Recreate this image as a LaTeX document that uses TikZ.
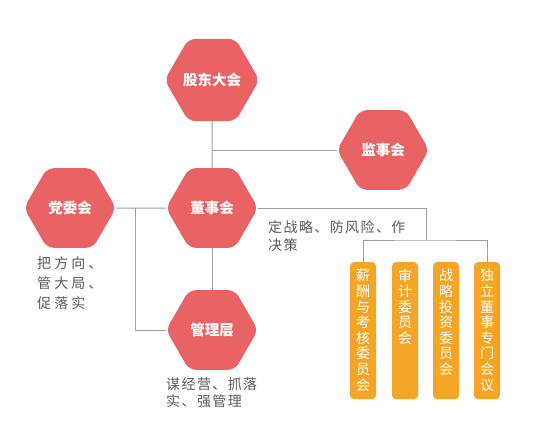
\documentclass[tikz,border=0pt]{standalone}
\usepackage{fontspec}
\setmainfont{Noto Sans CJK SC}
\usepackage{tikz}
\usetikzlibrary{shapes.geometric}
\definecolor{hexred}{HTML}{E96264}
\definecolor{boxorange}{HTML}{F4A526}
\definecolor{linegray}{HTML}{9E9E9E}
\definecolor{textgray}{HTML}{595959}

\newcommand{\vlabel}[1]{\parbox[c][123pt][t]{16pt}{\centering #1}}

\begin{document}
\begin{tikzpicture}[x=1pt, y=-1pt,
  hexnode/.style={regular polygon, regular polygon sides=6, minimum size=92pt, inner sep=0pt, fill=hexred, rounded corners=7pt, text=white, font=\fontsize{14.5}{16}\selectfont\bfseries},
  vbox/.style={fill=boxorange, rounded corners=4pt, inner xsep=5pt, inner ysep=7pt, anchor=north, text=white, font=\fontsize{14}{15.6}\selectfont},
  note/.style={text=textgray, align=left, inner sep=0pt, anchor=north west},
  link/.style={draw=linegray, line width=1pt}
]
\useasboundingbox (0,0) rectangle (554,431);

% --------- HEXAGONS ----------
\node[hexnode] (gd) at (212,80) {股东大会};
\node[hexnode] (js) at (383,150) {监事会};
\node[hexnode] (dw) at (70,208) {党委会};
\node[hexnode] (ds) at (212,208) {董事会};
\node[hexnode] (gl) at (212,330) {管理层};

% --------- COMMITTEES ----------
\node[vbox] (c1) at (363,262) {\vlabel{薪\\酬\\与\\考\\核\\委\\员\\会}};
\node[vbox] (c2) at (405,262) {\vlabel{审\\计\\委\\员\\会}};
\node[vbox] (c3) at (446,262) {\vlabel{战\\略\\投\\资\\委\\员\\会}};
\node[vbox] (c4) at (487,262) {\vlabel{独\\立\\董\\事\\专\\门\\会\\议}};

% notes
\node[note, font=\fontsize{14}{18}\selectfont\addfontfeature{LetterSpace=10}] (t1) at (268,220) {定战略、防风险、作\\决策};
\node[note, font=\fontsize{14}{20}\selectfont\addfontfeature{LetterSpace=22}] (t2) at (37,256) {把方向、\\管大局、\\促落实};
\node[note, font=\fontsize{14}{16.5}\selectfont\addfontfeature{LetterSpace=10}] (t3) at (166,378) {谋经营、抓落\\实、强管理};

% --------- LINKS ----------
\coordinate (dwj) at (135,208);
\coordinate (cmj) at (426,240);

\draw[link] (gd.south) -- (ds.north);
\draw[link] (js.west -| gd.south) -- (js.west);
\draw[link] (dw.east) -- (ds.west);
\draw[link] (dwj) |- (gl.west);
\draw[link] (ds.south) -- (gl.north);
\draw[link] (ds.east) -| (cmj);
\draw[link] (c1.north) |- (cmj) -| (c4.north);

\end{tikzpicture}
\end{document}
